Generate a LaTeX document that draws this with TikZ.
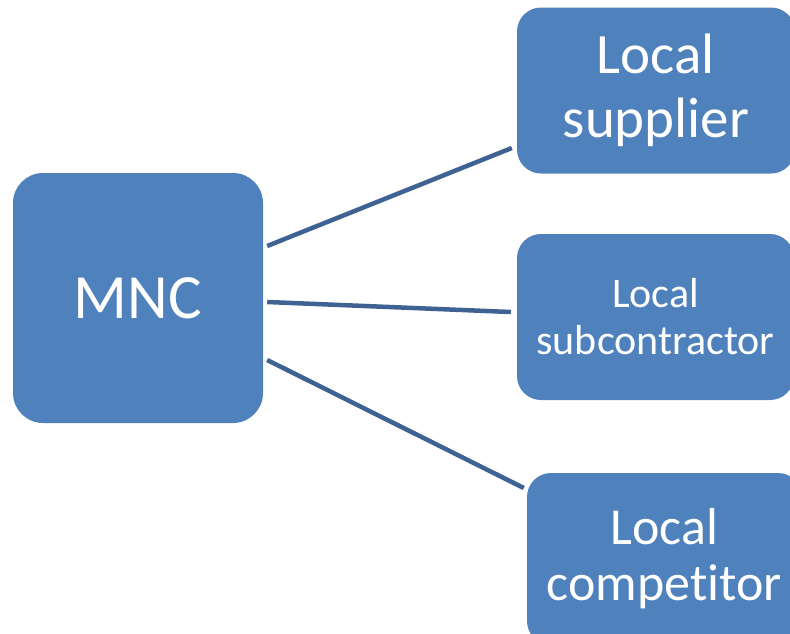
\documentclass[tikz,border=0pt]{standalone}
\usepackage{fontspec}
\setmainfont[Ligatures=NoCommon]{Carlito}
\definecolor{boxblue}{RGB}{79,129,189}
\definecolor{linkblue}{RGB}{62,98,146}
\tikzset{
	box/.style={fill=boxblue, text=white, align=center, inner sep=0pt},
	link/.style={draw=linkblue, line width=4.5pt}
}
\begin{document}
\begin{tikzpicture}[x=1pt,y=-1pt]
	\useasboundingbox (0,0) rectangle (790,633);
	% centro
	\node[box, rounded corners=30pt, minimum width=250pt, minimum height=250pt, font=\fontsize{63}{70}\selectfont] (mnc) at (138,298) {MNC};
	% partner locali
	\node[box, rounded corners=24pt, minimum width=278pt, minimum height=166pt, font=\fontsize{57}{64}\selectfont] (supplier) at (656,90.5) {Local\\ supplier};
	\node[box, rounded corners=24pt, minimum width=277pt, minimum height=166pt, font=\fontsize{42}{47}\selectfont] (subcontractor) at (655.5,317) {Local\\ subcontractor};
	\node[box, rounded corners=24pt, minimum width=275pt, minimum height=172pt, font=\fontsize{52}{56}\selectfont] (competitor) at (664.5,559) {Local\\ competitor};
	% collegamenti
	\draw[link] ([xshift=4pt,yshift=52pt]mnc.east) -- ([xshift=-5pt,yshift=-57.5pt]supplier.west);
	\draw[link] ([xshift=4pt,yshift=-4pt]mnc.east) -- ([xshift=-6pt,yshift=5pt]subcontractor.west);
	\draw[link] ([xshift=4pt,yshift=-62pt]mnc.east) -- ([xshift=-3pt,yshift=71pt]competitor.west);
\end{tikzpicture}
\end{document}
